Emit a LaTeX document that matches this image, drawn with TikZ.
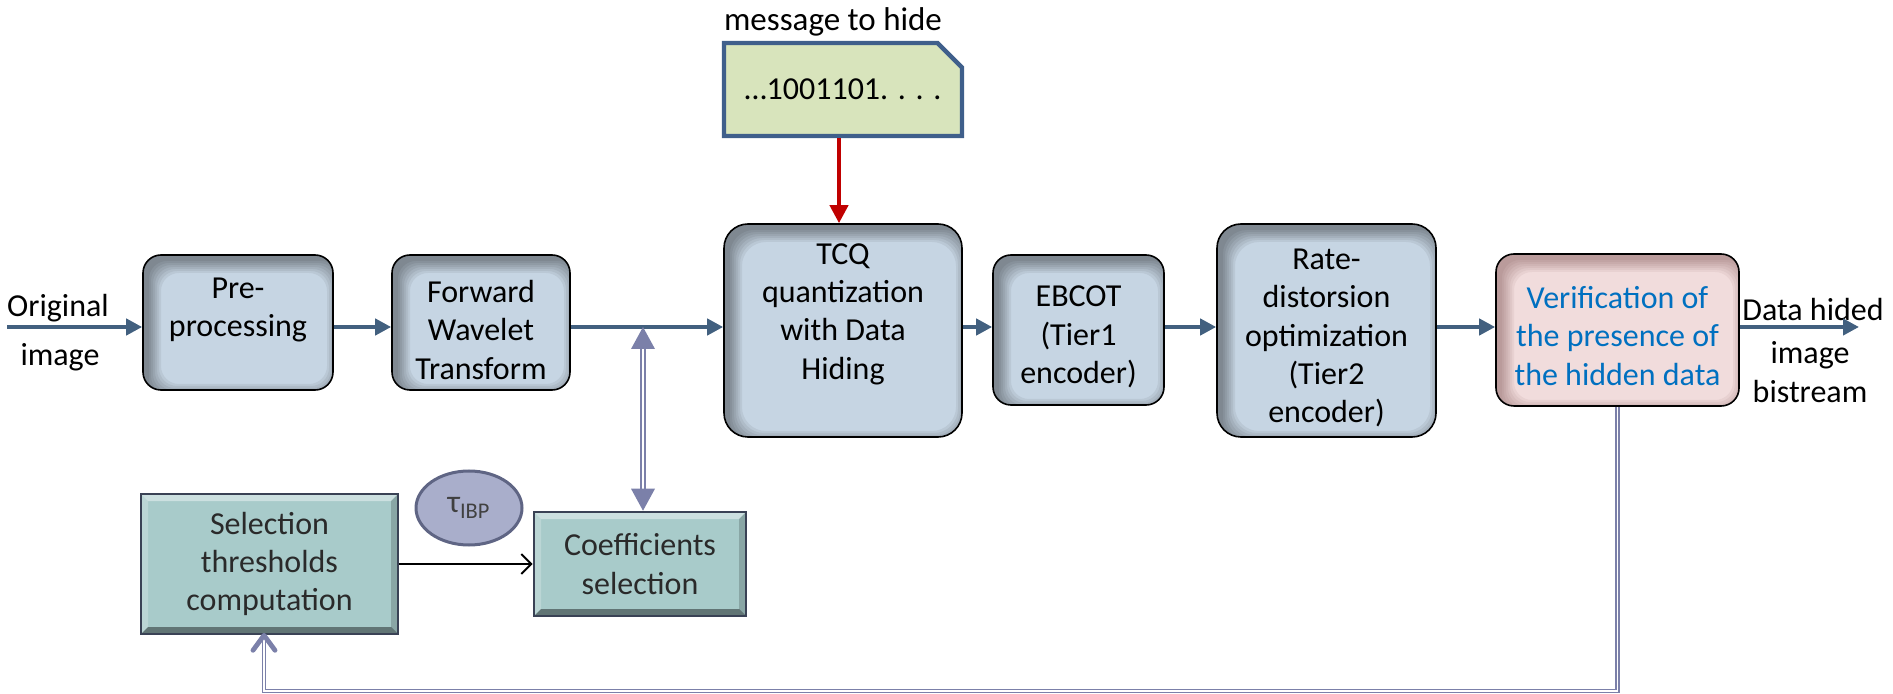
\documentclass[tikz,border=0pt]{standalone}
\usepackage{fontspec}
\setmainfont{Carlito}
\usetikzlibrary{arrows.meta,shapes.geometric,shapes.misc}

\definecolor{boxfill}{HTML}{C6D5E3}
\definecolor{verfill}{HTML}{F1DCDC}
\definecolor{verblue}{HTML}{0070C0}
\definecolor{flow}{HTML}{42607F}
\definecolor{lav}{HTML}{7B80A9}
\definecolor{hidered}{HTML}{C00000}
\definecolor{tealfill}{HTML}{A8CBCA}
\definecolor{tealline}{HTML}{3A4255}
\definecolor{taufill}{HTML}{A9AECB}
\definecolor{tauline}{HTML}{5F6584}
\definecolor{msgfill}{HTML}{D8E4BC}
\definecolor{msgline}{HTML}{3F5F8B}
\definecolor{darktext}{HTML}{2A2A2A}
\definecolor{redshade}{HTML}{5A2A2A}

\tikzset{
  txt/.style={font=\fontsize{16}{19.2}\selectfont, align=center, inner sep=0pt},
  % soft inner shadow, strongest along the top and left edges
  inshadow/.style 2 args={path picture={
      \foreach \d in {0,1,...,6}{
        \fill[#2, opacity=0.06, even odd rule]
          ([shift={(-30pt,-30pt)}]path picture bounding box.south west)
            rectangle ([shift={(30pt,30pt)}]path picture bounding box.north east)
          [rounded corners=#1]
          ([shift={(3pt+\d*1pt,-3pt+\d*1pt)}]path picture bounding box.south west)
            rectangle ([shift={(3pt-\d*1pt,-3pt-\d*1pt)}]path picture bounding box.north east);
      }}},
  stage/.style={draw=black, line width=0.8pt, fill=boxfill, inner sep=0pt,
      rounded corners=#1, inshadow={#1}{black}},
  stage/.default=9pt,
  checkbox/.style={draw=black, line width=0.8pt, fill=verfill, inner sep=0pt,
      rounded corners=9pt, inshadow={9pt}{redshade}},
  bevelbox/.style={txt, text=darktext, fill=tealfill, draw=tealline, line width=1.3pt,
      path picture={
        \coordinate (bvSW) at (path picture bounding box.south west);
        \coordinate (bvNE) at (path picture bounding box.north east);
        \coordinate (bvNW) at (path picture bounding box.north west);
        \coordinate (bvSE) at (path picture bounding box.south east);
        \fill[white, opacity=0.42] (bvNW) -- (bvNE) -- ([shift={(-3.5pt,-3.5pt)}]bvNE)
          -- ([shift={(3.5pt,-3.5pt)}]bvNW) -- cycle;
        \fill[white, opacity=0.22] (bvNW) -- (bvSW) -- ([shift={(3.5pt,3.5pt)}]bvSW)
          -- ([shift={(3.5pt,-3.5pt)}]bvNW) -- cycle;
        \fill[black, opacity=0.18] (bvNE) -- (bvSE) -- ([shift={(-3.5pt,3.5pt)}]bvSE)
          -- ([shift={(-3.5pt,-3.5pt)}]bvNE) -- cycle;
        \fill[black, opacity=0.42] (bvSW) -- (bvSE) -- ([shift={(-3.5pt,3.5pt)}]bvSE)
          -- ([shift={(3.5pt,3.5pt)}]bvSW) -- cycle;
      }},
  flowarrow/.style={flow, line width=2.2pt, -{Triangle[length=8pt,width=8pt]}},
  lavline/.style={lav, double=white},
  label/.style={txt, text=black}
}

\begin{document}
\begin{tikzpicture}[x=0.5pt, y=-0.5pt]
  \useasboundingbox (0,0) rectangle (1893,694);

  % message to embed
  \node[label, font=\fontsize{16.5}{19.8}\selectfont] (msgtitle) at (833,22) {message to hide};
  \node[txt, chamfered rectangle, chamfered rectangle corners=north east,
        chamfered rectangle xsep=7pt, chamfered rectangle ysep=7pt,
        minimum width=119pt, minimum height=46.5pt,
        fill=msgfill, draw=msgline, line width=2.2pt] (msg) at (843,89.5) {…1001101. . . .};

  % main coding chain: boxes
  \node[stage, minimum width=95pt, minimum height=67.5pt] (pre) at (238,322.5) {};
  \node[stage, minimum width=89pt, minimum height=67.5pt] (fwt) at (481,322.5) {};
  \node[stage=12pt, minimum width=119pt, minimum height=106.5pt] (tcq) at (843,330.5) {};
  \node[stage, minimum width=85.5pt, minimum height=75pt] (ebcot) at (1078.5,330) {};
  \node[stage=12pt, minimum width=109.5pt, minimum height=106.5pt] (rate) at (1326.5,330.5) {};
  \node[checkbox, minimum width=121.5pt, minimum height=76pt] (verif) at (1617.5,330) {};

  % main coding chain: captions
  \node[label] (pretxt) at (238,310) {Pre-\\processing};
  \node[label] (fwttxt) at (481,330) {Forward\\Wavelet\\Transform};
  \node[label] (tcqtxt) at (843,314) {TCQ\\quantization\\with Data\\Hiding};
  \node[label] (ebcottxt) at (1078.5,337) {EBCOT\\(Tier1\\encoder)};
  \node[label] (ratetxt) at (1326.5,338) {Rate-\\distorsion\\optimization\\(Tier2\\encoder)};
  \node[txt, text=verblue] (veriftxt) at (1617.5,336)
       {Verification of\\the presence of\\the hidden data};

  % selection branch
  \node[bevelbox, minimum width=128.5pt, minimum height=70pt] (sel) at (269.5,564)
       {Selection\\thresholds\\computation};
  \node[bevelbox, minimum width=106pt, minimum height=52pt] (coef) at (640,564)
       {Coefficients\\selection};
  \node[txt, ellipse, minimum width=53pt, minimum height=37pt, fill=taufill,
        draw=tauline, line width=1.5pt, text=black!75] (tau) at (469,508)
       {τ\textsubscript{IBP}};

  % outer labels
  \node[label] (orig1) at (58,308) {Original};
  \node[label] (orig2) at (60,357) {image};
  \node[label] (outl1) at (1813,310) {Data hided};
  \node[label] (outl2) at (1810,355) {image};
  \node[label] (outl3) at (1810,392) {bistream};

  % free ends and junctions
  \coordinate (in) at (7,327);
  \coordinate (out) at (1859,327);
  \coordinate (junc) at (643,327);
  \coordinate (fbc) at (264,691);
  \coordinate (fbtip) at (fbc |- sel.south);
  \coordinate (cjunc) at (junc |- coef.north);

  % main flow
  \draw[flowarrow] (in) -- (pre.west |- in);
  \draw[flowarrow] (pre.east |- in) -- (fwt.west |- in);
  \draw[flowarrow] (fwt.east |- in) -- (tcq.west |- in);
  \draw[flowarrow] (tcq.east |- in) -- (ebcot.west |- in);
  \draw[flowarrow] (ebcot.east |- in) -- (rate.west |- in);
  \draw[flowarrow] (rate.east |- in) -- (verif.west |- in);
  \draw[flowarrow] (verif.east |- in) -- (out);

  % message insertion
  \draw[hidered, line width=2pt, -{Triangle[length=9pt,width=9pt]}]
       ([xshift=-2pt]msg.south) -- ([xshift=-2pt]tcq.north);

  % two-way link to the coefficient selection
  \draw[lavline, line width=1.1pt, double distance=1.1pt, shorten <=10pt, shorten >=10pt]
       (junc) -- (cjunc);
  \fill[lav] (junc) -- ++(-6pt,-11pt) -- ++(12pt,0pt) -- cycle;
  \fill[lav] (cjunc) -- ++(-6pt,11pt) -- ++(12pt,0pt) -- cycle;

  % thresholds to selection
  \draw[black, line width=0.9pt, -{Straight Barb[length=5pt,width=10pt,line width=1pt]}]
       (sel.east) -- (coef.west);

  % feedback loop
  \draw[lavline, line width=0.7pt, double distance=0.9pt]
       (verif.south) |- (fbc) -- ([yshift=-1pt]fbtip);
  \draw[lav, line width=2.4pt, line cap=round, line join=round]
       ([shift={(-5.5pt,-7.5pt)}]fbtip) -- (fbtip) -- ([shift={(5.5pt,-7.5pt)}]fbtip);
\end{tikzpicture}
\end{document}
